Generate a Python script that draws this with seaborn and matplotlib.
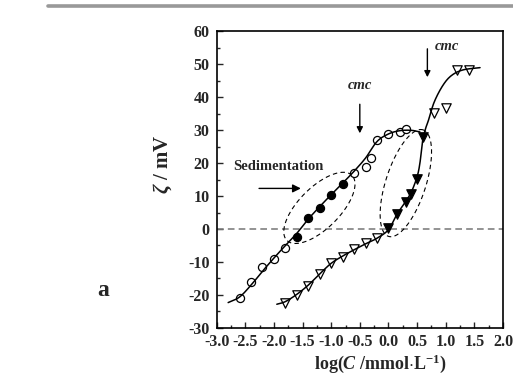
import numpy as np
import pandas as pd
import matplotlib
matplotlib.use("Agg")
import matplotlib.pyplot as plt
import seaborn as sns
from matplotlib.lines import Line2D

# ---- data ----
open_circle_x = [-2.6, -2.4, -2.2, -2.0, -1.8, -0.6, -0.4, -0.3, -0.2, 0.0, 0.2, 0.3]
open_circle_y = [-21.0, -16.0, -11.6, -9.0, -5.85, 17.1, 18.9, 21.6, 26.9, 28.7, 29.3, 30.2]

filled_circle_x = [-1.6, -1.4, -1.2, -1.0, -0.8]
filled_circle_y = [-2.5, 3.2, 6.5, 10.2, 13.6]

open_tri_x = [-1.8, -1.6, -1.4, -1.2, -1.0, -0.8, -0.6, -0.4, -0.2, 0.8, 1.0, 1.2, 1.4]
open_tri_y = [-22.5, -20.0, -17.4, -13.7, -10.2, -8.4, -6.0, -4.1, -2.8, 35.3, 36.8, 48.2, 48.2]

filled_tri_x = [0.0, 0.15, 0.3, 0.4, 0.5, 0.6]
filled_tri_y = [0.2, 4.4, 8.3, 10.6, 15.2, 27.8]

# fitted curves
fit1_x = [-2.8, -2.6, -2.4, -2.2, -2.0, -1.8, -1.6, -1.4, -1.2, -1.0, -0.8, -0.6, -0.4, -0.2, 0.0, 0.2, 0.4, 0.55]
fit1_y = [-22.3, -20.6, -17.0, -12.8, -8.8, -5.0, -1.3, 3.0, 6.8, 10.4, 13.9, 17.5, 21.5, 26.5, 28.8, 29.8, 29.9, 29.4]

fit2_x = [-1.95, -1.8, -1.6, -1.4, -1.2, -1.0, -0.8, -0.6, -0.4, -0.2, 0.0, 0.15, 0.3, 0.4, 0.5, 0.55, 0.6, 0.65, 0.7, 0.8, 0.95, 1.1, 1.3, 1.6]
fit2_y = [-22.8, -22.0, -19.8, -17.0, -13.6, -10.4, -8.2, -6.3, -4.5, -2.8, -0.2, 4.5, 8.3, 11.2, 15.8, 20.0, 27.0, 30.5, 33.0, 38.5, 43.5, 46.5, 48.2, 48.9]

x_ticks = [-3.0, -2.5, -2.0, -1.5, -1.0, -0.5, 0.0, 0.5, 1.0, 1.5, 2.0]
y_ticks = [-30, -20, -10, 0, 10, 20, 30, 40, 50, 60]


def catmull_rom(xs, ys, n=12):
    p = np.column_stack([xs, ys]).astype(float)
    p = np.vstack([2 * p[0] - p[1], p, 2 * p[-1] - p[-2]])
    out = []
    t = np.linspace(0, 1, n, endpoint=False)[:, None]
    for i in range(1, len(p) - 2):
        p0, p1, p2, p3 = p[i - 1], p[i], p[i + 1], p[i + 2]
        seg = 0.5 * ((2 * p1) + (-p0 + p2) * t + (2 * p0 - 5 * p1 + 4 * p2 - p3) * t ** 2
                     + (-p0 + 3 * p1 - 3 * p2 + p3) * t ** 3)
        out.append(seg)
    out.append(p[-2][None, :])
    out = np.vstack(out)
    return out[:, 0], out[:, 1]


sns.set_style("ticks")
plt.rcParams["font.family"] = ["Liberation Serif", "DejaVu Serif"]
plt.rcParams["font.weight"] = "bold"
plt.rcParams["axes.unicode_minus"] = False
plt.rcParams["mathtext.fontset"] = "custom"
plt.rcParams["mathtext.rm"] = "Liberation Serif:bold"
plt.rcParams["mathtext.it"] = "Liberation Serif:italic:bold"
plt.rcParams["mathtext.bf"] = "Liberation Serif:bold"

fig = plt.figure(figsize=(5.13, 3.74), dpi=100)
ax = fig.add_axes([0.4224, 0.123, 0.558, 0.7941])

ax.set_xlim(-3.0, 2.0)
ax.set_ylim(-30, 60)

# zero line
ax.axhline(0, color="#808080", lw=1.2, ls=(0, (4, 2.5)), zorder=1)

# markers
df_oc = pd.DataFrame({"x": open_circle_x, "y": open_circle_y})
df_fc = pd.DataFrame({"x": filled_circle_x, "y": filled_circle_y})
df_ot = pd.DataFrame({"x": open_tri_x, "y": open_tri_y})
df_ft = pd.DataFrame({"x": filled_tri_x, "y": filled_tri_y})

sns.scatterplot(data=df_oc, x="x", y="y", marker="o", s=34, facecolor="white",
                edgecolor="black", linewidth=0.9, ax=ax, zorder=3)
sns.scatterplot(data=df_fc, x="x", y="y", marker="o", s=34, color="black",
                edgecolor="black", linewidth=0.9, ax=ax, zorder=3)
sns.scatterplot(data=df_ot, x="x", y="y", marker="v", s=46, facecolor="white",
                edgecolor="black", linewidth=0.9, ax=ax, zorder=3)
sns.scatterplot(data=df_ft, x="x", y="y", marker="v", s=46, color="black",
                edgecolor="black", linewidth=0.9, ax=ax, zorder=3)

# fitted curves
for fx, fy in [(fit1_x, fit1_y), (fit2_x, fit2_y)]:
    cx, cy = catmull_rom(fx, fy)
    dfc = pd.DataFrame({"x": cx, "y": cy})
    sns.lineplot(data=dfc, x="x", y="y", sort=False, estimator=None, color="black",
                 lw=1.1, ax=ax, zorder=4)

# dashed ellipses (defined in pixel space of the axes)
fig.canvas.draw()
bb = ax.get_window_extent()
px_per_x = bb.width / 5.0
px_per_y = bb.height / 90.0


def ellipse(cx, cy, a, b, ang):
    t = np.linspace(0, 2 * np.pi, 200)
    th = np.deg2rad(ang)
    u = a * np.cos(t) * np.cos(th) - b * np.sin(t) * np.sin(th)
    v = a * np.cos(t) * np.sin(th) + b * np.sin(t) * np.cos(th)
    ax.plot(cx + u / px_per_x, cy + v / px_per_y, color="black", lw=0.8,
            ls=(0, (4, 3)), zorder=2)


ellipse(-1.206, 6.4, 46, 20.5, 45)
ellipse(0.304, 13.9, 56, 20, 72)

# annotations
ax.annotate("", xy=(-1.53, 12.3), xytext=(-2.26, 12.3),
            arrowprops=dict(arrowstyle="-|>", color="black", lw=1.0,
                            mutation_scale=12, shrinkA=0, shrinkB=0))
ax.text(-2.72, 18.9, "Sedimentation", fontsize=10.5, fontweight="bold", va="center", ha="left")

ax.annotate("", xy=(-0.5, 29.0), xytext=(-0.5, 37.8),
            arrowprops=dict(arrowstyle="-|>", color="black", lw=1.0,
                            mutation_scale=9, shrinkA=0, shrinkB=0))
ax.text(-0.5, 43.4, "cmc", fontsize=10.5, fontweight="bold", fontstyle="italic",
        va="center", ha="center")

ax.annotate("", xy=(0.68, 46.0), xytext=(0.68, 54.6),
            arrowprops=dict(arrowstyle="-|>", color="black", lw=1.0,
                            mutation_scale=9, shrinkA=0, shrinkB=0))
ax.text(0.81, 55.2, "cmc", fontsize=10.5, fontweight="bold", fontstyle="italic",
        va="center", ha="left")

# axes styling
ax.set_xticks(x_ticks)
ax.set_xticklabels([f"{v:.1f}" for v in x_ticks])
ax.set_yticks(y_ticks)
ax.set_yticklabels([str(v) for v in y_ticks])
ax.set_xticks(np.arange(-3.0, 2.01, 0.25), minor=True)
ax.set_yticks(np.arange(-30, 61, 5), minor=True)
ax.tick_params(axis="both", which="major", direction="in", length=4, width=1.0,
               labelsize=11.5, top=False, right=False)
ax.tick_params(axis="x", which="major", pad=4)
ax.tick_params(axis="y", which="major", pad=5)
ax.tick_params(axis="both", which="minor", direction="in", length=2.5, width=1.0,
               top=False, right=False)
for lab in ax.get_xticklabels() + ax.get_yticklabels():
    lab.set_fontweight("bold")
for sp in ax.spines.values():
    sp.set_visible(True)
    sp.set_linewidth(1.2)
    sp.set_color("black")

ax.set_xlabel(r"log($C$ /mmol$\cdot$L$^{-1}$)", fontsize=13, fontweight="bold")
ax.set_ylabel(r"$\zeta$ / mV", fontsize=15, fontweight="bold")
ax.xaxis.set_label_coords(0.571, -0.082)
ax.yaxis.set_label_coords(-0.15, 0.55)

# decorations outside the axes
fig.add_artist(Line2D([48 / 513, 1.0], [1 - 5.6 / 374, 1 - 5.6 / 374],
                      transform=fig.transFigure, color="#999999", lw=2.6))
fig.text(103 / 513, 1 - 291 / 374, "a", fontsize=17, fontweight="bold",
         ha="center", va="center")

fig.savefig("out.png", dpi=100)
